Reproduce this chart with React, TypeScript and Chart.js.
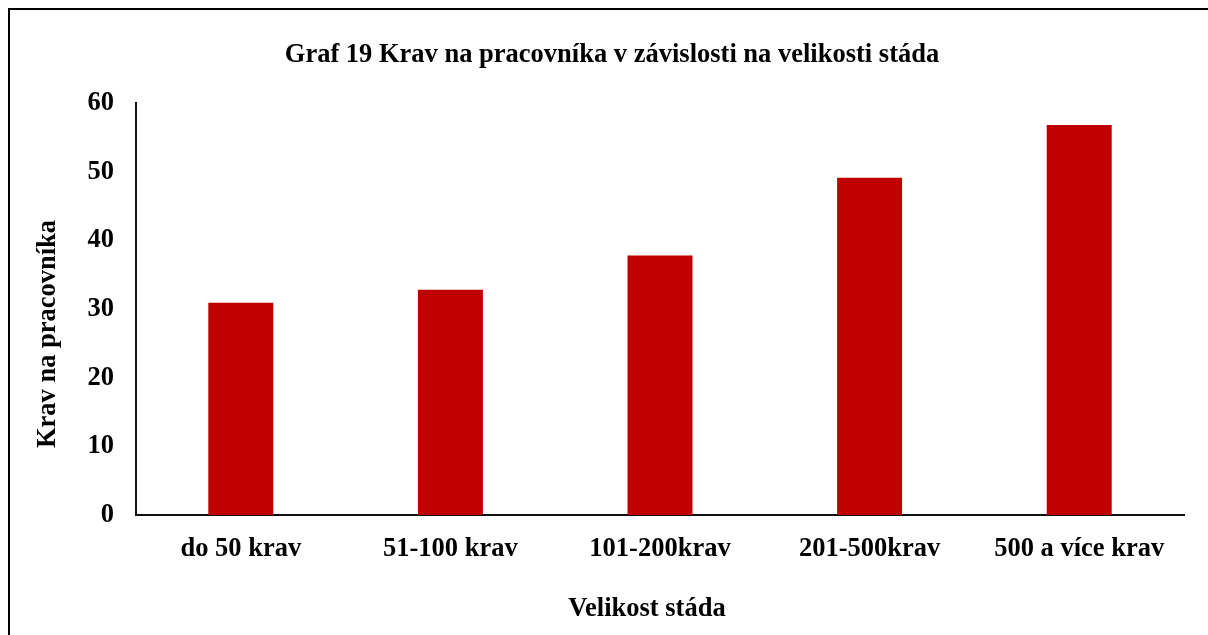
import React, { useEffect, useRef } from "react";
import { Chart, registerables } from "chart.js";

Chart.register(...registerables);

const categories = ["do 50 krav", "51-100 krav", "101-200krav", "201-500krav", "500 a více krav"];
const values = [30.9, 32.8, 37.8, 49.1, 56.8];
const yTicks = [0, 10, 20, 30, 40, 50, 60];
const titleText = "Graf 19 Krav na pracovníka v závislosti na velikosti stáda";
const xTitle = "Velikost stáda";
const yTitle = "Krav na pracovníka";

const FONT = '"Liberation Serif", "Times New Roman", serif';
const FS = 26.5;

const textPlugin = {
  id: "textPlugin",
  afterDraw(chart: any) {
    const { ctx, chartArea } = chart;
    ctx.save();
    ctx.fillStyle = "#000";
    ctx.font = `bold ${FS}px ${FONT}`;
    ctx.textAlign = "center";
    ctx.textBaseline = "middle";
    // chart title
    ctx.fillText(titleText, chart.width / 2 + 3, chartArea.top - 48);
    // x axis title
    const cx = (chartArea.left + chartArea.right) / 2 - 13;
    ctx.fillText(xTitle, cx, chartArea.bottom + 94);
    // y axis title
    const cy = (chartArea.top + chartArea.bottom) / 2 + 25;
    ctx.translate(chartArea.left - 88, cy);
    ctx.rotate(-Math.PI / 2);
    ctx.fillText(yTitle, 0, 0);
    ctx.restore();
  },
};

export default function App() {
  const ref = useRef<HTMLCanvasElement | null>(null);
  useEffect(() => {
    document.documentElement.style.overflow = "hidden";
    if (!ref.current) return;
    const chart = new Chart(ref.current, {
      type: "bar",
      data: {
        labels: categories,
        datasets: [
          {
            data: values,
            backgroundColor: "#C00000",
            borderWidth: 0,
            barPercentage: 0.31,
            categoryPercentage: 1,
          },
        ],
      },
      plugins: [textPlugin],
      options: {
        animation: false,
        responsive: false,
        maintainAspectRatio: false,
        layout: { padding: { left: 0, right: 24, top: 93, bottom: 0 } },
        plugins: {
          legend: { display: false },
          tooltip: { enabled: false },
          title: { display: false },
        },
        scales: {
          x: {
            grid: { display: false, drawTicks: false },
            border: { display: true, color: "#111", width: 2 },
            ticks: {
              color: "#000",
              font: { family: FONT, size: FS, weight: "bold" },
              padding: 18,
              maxRotation: 0,
              autoSkip: false,
            },
            afterFit(scale: any) {
              scale.height = 120;
            },
          },
          y: {
            min: 0,
            max: 60,
            grid: { display: false, drawTicks: false },
            border: { display: true, color: "#111", width: 2 },
            ticks: {
              color: "#000",
              font: { family: FONT, size: FS, weight: "bold" },
              padding: 22,
              stepSize: 10,
              callback: (v: any) => (yTicks.includes(Number(v)) ? String(v) : ""),
            },
            afterFit(scale: any) {
              scale.width = 126;
            },
          },
        },
      },
    });
    return () => chart.destroy();
  }, []);

  return (
    <div
      style={{
        position: "fixed",
        left: 8,
        top: 8,
        right: 0,
        bottom: 0,
        overflow: "hidden",
        background: "#fff",
      }}
    >
      <div
        style={{
          position: "relative",
          width: 1240,
          height: 680,
          border: "2px solid #000",
          boxSizing: "border-box",
          background: "#fff",
        }}
      >
        <canvas ref={ref} width={1198} height={625} style={{ display: "block", width: 1198, height: 625 }} />
      </div>
    </div>
  );
}
